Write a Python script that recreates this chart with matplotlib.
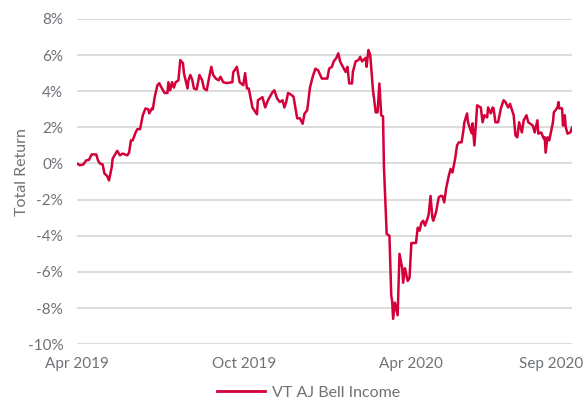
import matplotlib
matplotlib.use("Agg")
import matplotlib.pyplot as plt
import matplotlib.ticker as mticker
import pandas as pd
from matplotlib.lines import Line2D

plt.rcParams['font.family'] = ['Lato', 'DejaVu Sans']

start_date = "2019-04-01"
# days since start, and total return (%)
day_offset = [0, 3, 7, 10, 13, 16, 21, 23, 25, 28, 30, 33, 35, 38, 39, 44, 47, 50, 55, 57,
              59, 61, 64, 66, 69, 72, 75, 78, 79, 82, 83, 85, 88, 90, 93, 96, 99, 100, 102, 104,
              106, 108, 111, 113, 116, 117, 121, 122, 124, 126, 128, 131, 134, 137, 139, 142, 144, 147, 149, 152,
              155, 157, 160, 164, 170, 171, 175, 178, 182, 184, 186, 188, 192, 194, 197, 198, 203, 206, 209, 214,
              216, 219, 222, 225, 227, 229, 231, 233, 237, 241, 244, 247, 249, 252, 255, 258, 261, 264, 268, 274,
              276, 279, 281, 284, 286, 288, 290, 294, 296, 298, 301, 302, 305, 308, 310, 312, 316, 317, 319, 321,
              324, 327, 329, 331, 333, 335, 336, 339, 342, 344, 345, 346, 348, 351, 353, 356, 357, 359, 362, 364,
              366, 368, 371, 373, 375, 377, 379, 381, 384, 385, 387, 389, 390, 393, 396, 398, 400, 402, 404, 407,
              409, 411, 414, 416, 418, 421, 423, 424, 427, 428, 432, 433, 435, 437, 438, 442, 444, 446, 449, 450,
              453, 455, 456, 458, 461, 464, 467, 469, 472, 474, 478, 480, 482, 484, 487, 489, 492, 494, 499, 501,
              504, 505, 508, 511, 512, 513, 515, 517, 521, 522, 526, 527, 528, 531, 532, 534, 535, 537, 540, 542]
total_return = [0.0, -0.1, -0.05, 0.17, 0.2, 0.5, 0.5, 0.17, 0.0, -0.05, -0.55, -0.7, -0.94, -0.2, 0.27, 0.7, 0.45, 0.55, 0.45, 0.6,
                1.28, 1.28, 1.7, 1.9, 1.9, 2.67, 3.05, 3.0, 2.77, 3.05, 3.0, 3.67, 4.33, 4.44, 4.15, 3.9, 3.9, 4.5, 4.05, 4.5,
                4.2, 4.5, 4.6, 5.72, 5.55, 5.0, 4.15, 4.6, 4.9, 4.65, 4.15, 4.1, 4.9, 4.6, 4.15, 4.05, 4.6, 5.35, 4.9, 4.7,
                4.6, 4.8, 4.5, 4.45, 4.5, 5.05, 5.35, 4.5, 4.33, 5.0, 4.15, 4.15, 3.1, 2.95, 2.72, 3.5, 3.67, 3.1, 3.5, 3.95,
                4.05, 3.6, 3.4, 3.5, 3.1, 3.4, 3.9, 3.85, 3.7, 2.5, 2.5, 2.2, 2.75, 2.95, 4.2, 4.8, 5.25, 5.15, 4.7, 4.7,
                5.25, 5.35, 5.65, 5.85, 6.1, 5.65, 5.45, 5.07, 5.35, 4.43, 4.43, 5.07, 5.65, 5.72, 5.9, 5.65, 5.85, 5.35, 6.28, 6.0,
                4.05, 2.83, 2.83, 4.43, 2.67, 2.6, -0.2, -3.9, -4.0, -7.33, -7.6, -8.6, -7.7, -8.4, -5.0, -5.8, -6.6, -5.8, -6.5, -6.33,
                -4.4, -4.4, -4.4, -3.55, -3.72, -3.28, -3.17, -3.44, -3.0, -2.8, -1.8, -3.0, -3.17, -2.7, -1.87, -1.8, -1.8, -2.15, -1.4, -0.67,
                -0.3, -0.5, 0.28, 1.0, 1.17, 1.17, 1.83, 2.28, 2.77, 2.28, 1.67, 2.22, 1.0, 2.39, 3.22, 3.1, 2.28, 2.67, 2.55, 3.1,
                2.77, 3.1, 3.05, 2.28, 2.28, 3.05, 3.5, 3.4, 3.1, 3.3, 2.67, 1.55, 1.45, 2.28, 1.72, 2.39, 2.67, 2.28, 2.1, 1.72,
                2.39, 1.65, 1.72, 1.38, 1.45, 0.6, 1.45, 1.28, 2.28, 2.83, 3.1, 3.4, 3.05, 3.05, 2.1, 2.67, 2.0, 1.65, 1.72, 2.0]

tick_dates = ["2019-04-01", "2019-10-01", "2020-04-01", "2020-09-01"]
tick_labels = ["Apr 2019", "Oct 2019", "Apr 2020", "Sep 2020"]
y_ticks = [-10, -8, -6, -4, -2, 0, 2, 4, 6, 8]
series_name = "VT AJ Bell Income"

dates = pd.Timestamp(start_date) + pd.to_timedelta(day_offset, unit="D")

fig = plt.figure(figsize=(5.88, 4.03), dpi=100)
ax = fig.add_axes([0.131, 0.146, 0.842, 0.807])

color = "#d4003a"
grey = "#6e7277"
ax.plot(dates, total_return, color=color, lw=1.8, solid_joinstyle="round")

ax.set_ylim(-10, 8)
ax.set_xlim(dates[0], dates[-1])
ax.set_yticks(y_ticks)
ax.yaxis.set_major_formatter(mticker.FuncFormatter(lambda v, p: f"{int(v)}%"))
ax.set_xticks(pd.to_datetime(tick_dates))
ax.set_xticklabels(tick_labels)
ax.grid(axis="y", color="#d9d9d9", lw=1.3)
ax.set_axisbelow(True)
for s in ax.spines.values():
    s.set_visible(False)
ax.tick_params(axis="both", length=0, colors=grey, labelsize=11)
ax.tick_params(axis="x", pad=9)
ax.tick_params(axis="y", pad=10)
ax.set_ylabel("Total Return", color=grey, fontsize=11.5)
ax.yaxis.set_label_coords(-0.098, 0.53)

handle = Line2D([], [], color=color, lw=2)
fig.legend([handle], [series_name], loc="lower center", bbox_to_anchor=(0.525, -0.028),
           frameon=False, fontsize=11.5, labelcolor=grey, handlelength=3.0, handletextpad=0.4)

fig.savefig("out.png", dpi=100)
